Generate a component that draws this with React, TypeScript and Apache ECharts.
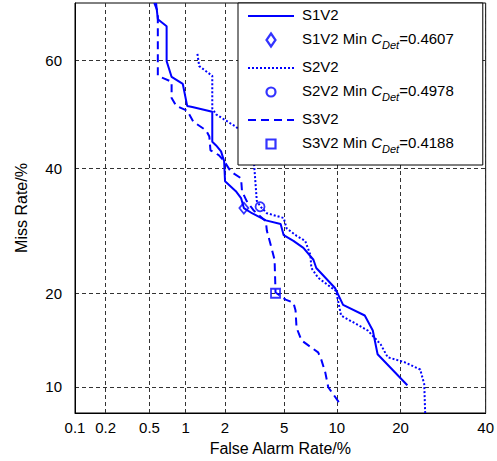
import React, { useEffect, useRef } from "react";
import * as echarts from "echarts";

// ---- data (percent) ----
const xTickValues = [0.1, 0.2, 0.5, 1, 2, 5, 10, 20, 40];
const xTickLabels = ["0.1", "0.2", "0.5", "1", "2", "5", "10", "20", "40"];
const yTickValues = [10, 20, 40, 60];
const yTickLabels = ["10", "20", "40", "60"];
const xRange = [0.1, 40];
const yRange = [8, 70];

const seriesNames = ["S1V2", "S2V2", "S3V2"];

const s1v2FalseAlarm = [0.57, 0.59, 0.7, 0.7, 0.77, 0.95, 1.03, 1.13, 1.61, 1.61, 1.72, 1.87, 1.97, 2.0, 2.39, 2.6, 2.72, 3.09, 3.82, 4.75, 4.96, 5.69, 6.52, 7.45, 7.73, 9.78, 10.78, 13.82, 15.08, 15.87, 21.35];
const s1v2Miss = [70, 67.3, 66.1, 59.9, 57.0, 55.7, 51.6, 51.4, 50.5, 44.9, 44.2, 43.1, 41.3, 37.65, 35.9, 34.7, 32.97, 32.1, 30.9, 30.3, 28.5, 27.6, 26.5, 24.7, 23.5, 20.7, 18.5, 17.2, 15.46, 12.95, 10.13];

const s2v2FalseAlarm = [1.24, 1.28, 1.61, 1.61, 1.72, 2.39, 2.94, 3.19, 3.19, 3.33, 3.53, 3.88, 4.96, 5.17, 5.94, 6.68, 7.16, 7.25, 7.92, 9.9, 10.53, 14.29, 16.39, 17.61, 20.77, 24.03, 24.9, 25.1];
const s2v2Miss = [61.2, 59.0, 57.2, 51.1, 50.0, 47.7, 45.5, 43.7, 40.9, 34.2, 33.2, 32.1, 31.3, 29.6, 28.4, 27.6, 25.4, 23.5, 22.1, 20.3, 17.2, 15.46, 13.96, 12.66, 12.18, 11.5, 10.22, 8.0];

const s3v2FalseAlarm = [0.55, 0.59, 0.59, 0.67, 0.77, 0.77, 0.84, 1.03, 1.15, 1.45, 1.53, 1.56, 1.8, 1.97, 2.2, 2.6, 2.64, 2.84, 3.19, 3.82, 3.88, 4.11, 4.35, 4.41, 5.1, 5.69, 5.86, 5.94, 6.35, 6.97, 7.92, 8.23, 8.67, 9.0, 10.41];
const s3v2Miss = [70, 68.5, 57.2, 56.7, 56.1, 53.1, 51.6, 50.7, 48.65, 46.97, 45.85, 43.3, 42.4, 41.3, 39.4, 38.2, 35.9, 34.2, 32.5, 30.77, 29.2, 26.95, 24.7, 20.1, 19.18, 18.79, 17.8, 15.78, 14.39, 13.85, 13.14, 12.47, 11.24, 9.96, 8.65];

const minFalseAlarm = [2.72, 3.5, 4.41];
const minMiss = [32.97, 33.2, 20.0];
const minCdet = ["0.4607", "0.4978", "0.4188"];
const minSymbols = ["diamond", "circle", "rect"];
// legend icons drawn in a 14x14 box (the leading moves fix the box)
const minLegendIcons = [
  "path://M0,0M14,14M7,0.5L11.5,7L7,13.5L2.5,7Z",
  "path://M0,0M14,14M11.5,7A4.5,4.5,0,1,1,2.5,7A4.5,4.5,0,1,1,11.5,7Z",
  "path://M0,0M14,14M2.5,2.5L11.5,2.5L11.5,11.5L2.5,11.5Z",
];
const lineTypes: any[] = ["solid", [2, 2], [8, 5]];

// ---- helpers ----
function probit(p: number): number {
  const a = [-3.969683028665376e1, 2.209460984245205e2, -2.759285104469687e2, 1.38357751867269e2, -3.066479806614716e1, 2.506628277459239];
  const b = [-5.447609879822406e1, 1.615858368580409e2, -1.556989798598866e2, 6.680131188771972e1, -1.328068155288572e1];
  const c = [-7.784894002430293e-3, -3.223964580411365e-1, -2.400758277161838, -2.549732539343734, 4.374664141464968, 2.938163982698783];
  const d = [7.784695709041462e-3, 3.224671290700398e-1, 2.445134137142996, 3.754408661907416];
  const plow = 0.02425;
  const phigh = 1 - plow;
  if (p < plow) {
    const q = Math.sqrt(-2 * Math.log(p));
    return (((((c[0] * q + c[1]) * q + c[2]) * q + c[3]) * q + c[4]) * q + c[5]) / ((((d[0] * q + d[1]) * q + d[2]) * q + d[3]) * q + 1);
  }
  if (p <= phigh) {
    const q = p - 0.5;
    const r = q * q;
    return ((((((a[0] * r + a[1]) * r + a[2]) * r + a[3]) * r + a[4]) * r + a[5]) * q) / (((((b[0] * r + b[1]) * r + b[2]) * r + b[3]) * r + b[4]) * r + 1);
  }
  const q = Math.sqrt(-2 * Math.log(1 - p));
  return -(((((c[0] * q + c[1]) * q + c[2]) * q + c[3]) * q + c[4]) * q + c[5]) / ((((d[0] * q + d[1]) * q + d[2]) * q + d[3]) * q + 1);
}
const pz = (percent: number) => probit(percent / 100);

function labelFor(v: number, values: number[], labels: string[]) {
  for (let i = 0; i < values.length; i++) {
    if (Math.abs(pz(values[i]) - v) < 1e-6) return labels[i];
  }
  return "";
}

const BLUE = "#0000ff";
const FONT = "'Liberation Sans', Arial, sans-serif";

export default function App() {
  const ref = useRef<HTMLDivElement>(null);
  useEffect(() => {
    if (!ref.current) return;
    const chart = echarts.init(ref.current, undefined, { renderer: "svg" });
    const curves = [
      [s1v2FalseAlarm, s1v2Miss],
      [s2v2FalseAlarm, s2v2Miss],
      [s3v2FalseAlarm, s3v2Miss],
    ];
    const series: any[] = [];
    const legendNames: string[] = [];
    const legendData: any[] = [];
    seriesNames.forEach((name, i) => {
      const [fa, miss] = curves[i];
      series.push({
        name,
        type: "line",
        data: fa.map((v, k) => [pz(v), pz(miss[k])]),
        symbol: "none",
        showSymbol: false,
        lineStyle: { color: BLUE, width: 2, type: lineTypes[i] },
        itemStyle: { color: BLUE },
        z: 2,
      });
      const minName = `${name} Min`;
      series.push({
        name: minName,
        type: "scatter",
        data: [[pz(minFalseAlarm[i]), pz(minMiss[i])]],
        symbol: minSymbols[i],
        symbolSize: minSymbols[i] === "diamond" ? [9, 11] : 9,
        itemStyle: { color: "rgba(0,0,0,0)", borderColor: BLUE, borderWidth: 1.8 },
        z: 3,
      });
      legendNames.push(name, minName);
      legendData.push(
        { name, itemStyle: { color: "rgba(0,0,0,0)", borderWidth: 0, opacity: 0 } },
        {
          name: minName,
          icon: minLegendIcons[i],
          itemStyle: { color: "rgba(0,0,0,0)", borderColor: BLUE, borderWidth: 2.2 },
        }
      );
    });

    const option: any = {
      animation: false,
      backgroundColor: "#fff",
      textStyle: { fontFamily: FONT },
      grid: {
        left: 75,
        top: 3,
        width: 414,
        height: 412,
        show: true,
        borderColor: "#000",
        borderWidth: 1,
        backgroundColor: "transparent",
        containLabel: false,
      },
      xAxis: {
        type: "value",
        min: pz(xRange[0]),
        max: pz(xRange[1]),
        name: "False Alarm Rate/%",
        nameLocation: "middle",
        nameGap: 27,
        nameTextStyle: { fontFamily: FONT, fontSize: 16, color: "#000" },
        axisLine: { show: true, onZero: false, lineStyle: { color: "#000" } },
        axisTick: { show: false, customValues: xTickValues.map(pz) },
        axisLabel: {
          customValues: xTickValues.map(pz),
          formatter: (v: number) => labelFor(v, xTickValues, xTickLabels),
          fontFamily: FONT,
          fontSize: 15,
          color: "#000",
          margin: 7,
          showMinLabel: true,
          showMaxLabel: true,
        },
        splitLine: { show: true, lineStyle: { color: "#333", type: [4, 3], width: 1 } },
      },
      yAxis: {
        type: "value",
        min: pz(yRange[0]),
        max: pz(yRange[1]),
        name: "Miss Rate/%",
        nameLocation: "middle",
        nameGap: 46,
        nameTextStyle: { fontFamily: FONT, fontSize: 16, color: "#000" },
        axisLine: { show: true, onZero: false, lineStyle: { color: "#000" } },
        axisTick: { show: false, customValues: yTickValues.map(pz) },
        axisLabel: {
          customValues: yTickValues.map(pz),
          formatter: (v: number) => labelFor(v, yTickValues, yTickLabels),
          fontFamily: FONT,
          fontSize: 15,
          color: "#000",
          margin: 13,
        },
        splitLine: { show: true, lineStyle: { color: "#333", type: [4, 3], width: 1 } },
      },
      legend: {
        orient: "vertical",
        left: 238,
        top: 3,
        padding: [4, 29, 11, 9],
        backgroundColor: "#fff",
        borderColor: "#000",
        borderWidth: 1,
        borderRadius: 0,
        itemWidth: 46,
        itemHeight: 14,
        itemGap: 9,
        data: legendData,
        formatter: (name: string) => {
          const idx = legendNames.indexOf(name);
          if (idx % 2 === 0) return `{n|${name}}`;
          const i = (idx - 1) / 2;
          return `{n|${seriesNames[i]} Min }{c|C}{s|Det}{n|=${minCdet[i]}}`;
        },
        textStyle: {
          fontFamily: FONT,
          fontSize: 15,
          color: "#000",
          padding: [0, 0, 0, 3],
          rich: {
            n: { fontFamily: FONT, fontSize: 15, color: "#000", lineHeight: 18, verticalAlign: "top" },
            c: { fontFamily: FONT, fontSize: 15, color: "#000", fontStyle: "italic", lineHeight: 18, verticalAlign: "top" },
            s: { fontFamily: FONT, fontSize: 11, color: "#000", fontStyle: "italic", lineHeight: 12, verticalAlign: "top", padding: [8, 0, 0, 0] },
          },
        },
      },
      series,
    };
    chart.setOption(option);
    return () => chart.dispose();
  }, []);
  return (
    <div
      ref={ref}
      style={{ position: "fixed", left: 0, top: 0, width: 497, height: 461, background: "#fff" }}
    />
  );
}
